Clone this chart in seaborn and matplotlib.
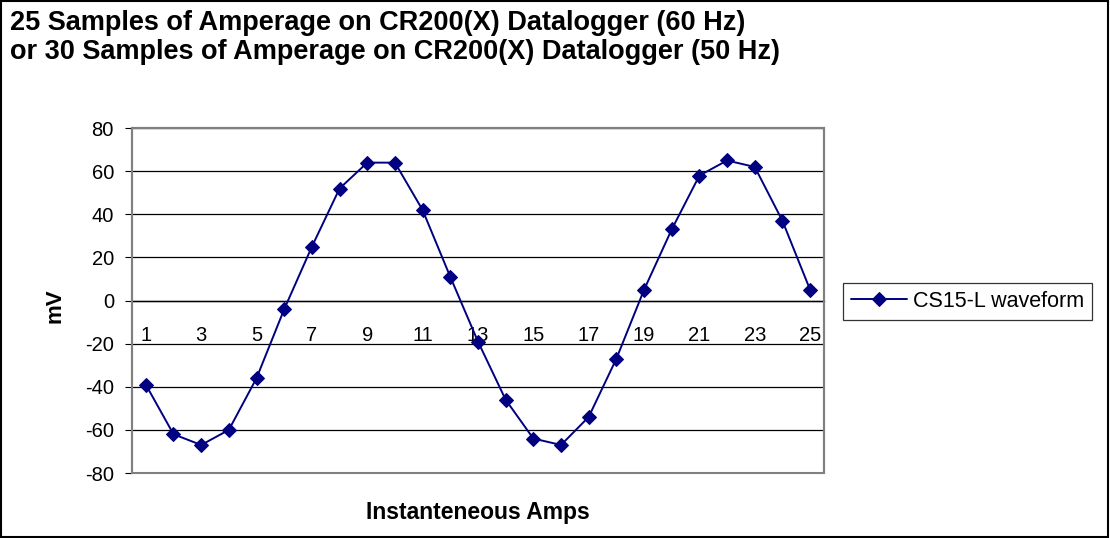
import numpy as np
import pandas as pd
import seaborn as sns
import matplotlib.pyplot as plt
from matplotlib.patches import Rectangle

sample = list(range(1, 26))
mv = [-39, -62, -67, -60, -36, -4, 25, 52, 64, 64, 42, 11, -19,
      -46, -64, -67, -54, -27, 5, 33, 58, 65, 62, 37, 5]
series_name = "CS15-L waveform"
y_ticks = [-80, -60, -40, -20, 0, 20, 40, 60, 80]
x_labels = [1, 3, 5, 7, 9, 11, 13, 15, 17, 19, 21, 23, 25]

df = pd.DataFrame({"Sample": sample, "mV": mv, "Series": series_name})

sns.set_style("white")
plt.rcParams['font.family'] = ['Liberation Sans', 'DejaVu Sans']
plt.rcParams['text.color'] = 'black'
plt.rcParams['xtick.color'] = 'black'
plt.rcParams['ytick.color'] = 'black'

fig = plt.figure(figsize=(11.1, 5.38), dpi=100)
ax = fig.add_axes([0.1189, 0.1208, 0.6234, 0.641])

sns.lineplot(data=df, x="Sample", y="mV", hue="Series", palette=["#000080"],
             marker="D", markersize=7.5, markeredgecolor="#000080", linewidth=1.4,
             ax=ax, zorder=3)

ax.set_xlim(0.5, 25.5)
ax.set_ylim(-80, 80)
ax.set_yticks(y_ticks)
ax.set_yticklabels([str(v) for v in y_ticks], fontsize=14.5, color="black")
ax.yaxis.grid(True, color="black", linewidth=0.9)
ax.set_axisbelow(True)

# category axis crossing at zero
ax.spines["bottom"].set_position(("data", 0))
ax.spines["bottom"].set_color("black")
ax.spines["bottom"].set_linewidth(1.0)
ax.set_xticks(x_labels)
ax.set_xticklabels([str(v) for v in x_labels], fontsize=14.5, color="black")
ax.tick_params(axis="x", which="major", length=0, pad=18)
ax.set_xticks(np.arange(0.5, 26, 1), minor=True)
ax.tick_params(axis="x", which="minor", length=5, direction="out", color="black")
ax.tick_params(axis="y", length=5, direction="out", color="black", left=True, pad=8)

for s in ["top", "right", "left"]:
    ax.spines[s].set_color("#808080")
    ax.spines[s].set_linewidth(1.5)
ax.add_patch(Rectangle((0, 0), 1, 1, transform=ax.transAxes, fill=False,
                       edgecolor="#808080", linewidth=1.5, zorder=5, clip_on=False))

ax.set_xlabel("")
ax.set_ylabel("")
fig.text(0.4306, 0.0483, "Instanteneous Amps", fontsize=16.5, fontweight="bold",
         ha="center", va="center", color="black")
fig.text(0.0495, 0.431, "mV", fontsize=16, fontweight="bold", rotation=90,
         ha="center", va="center", color="black")
fig.text(0.009, 0.957, "25 Samples of Amperage on CR200(X) Datalogger (60 Hz)",
         fontsize=19.5, fontweight="bold", ha="left", va="center", color="black")
fig.text(0.009, 0.903, "or 30 Samples of Amperage on CR200(X) Datalogger (50 Hz)",
         fontsize=19.5, fontweight="bold", ha="left", va="center", color="black")

leg = ax.legend(loc="center left", bbox_to_anchor=(0.7595, 0.4396),
                bbox_transform=fig.transFigure, borderaxespad=0, fontsize=15.5,
                frameon=True, fancybox=False, borderpad=0.35, handlelength=2.6,
                handletextpad=0.3)
leg.get_frame().set_edgecolor("black")
leg.get_frame().set_linewidth(0.9)
for t in leg.get_texts():
    t.set_color("black")

fig.patches.append(Rectangle((0.001, 0.002), 0.997, 0.996, transform=fig.transFigure,
                             fill=False, edgecolor="black", linewidth=1.5))

fig.savefig("out.png", dpi=100)
